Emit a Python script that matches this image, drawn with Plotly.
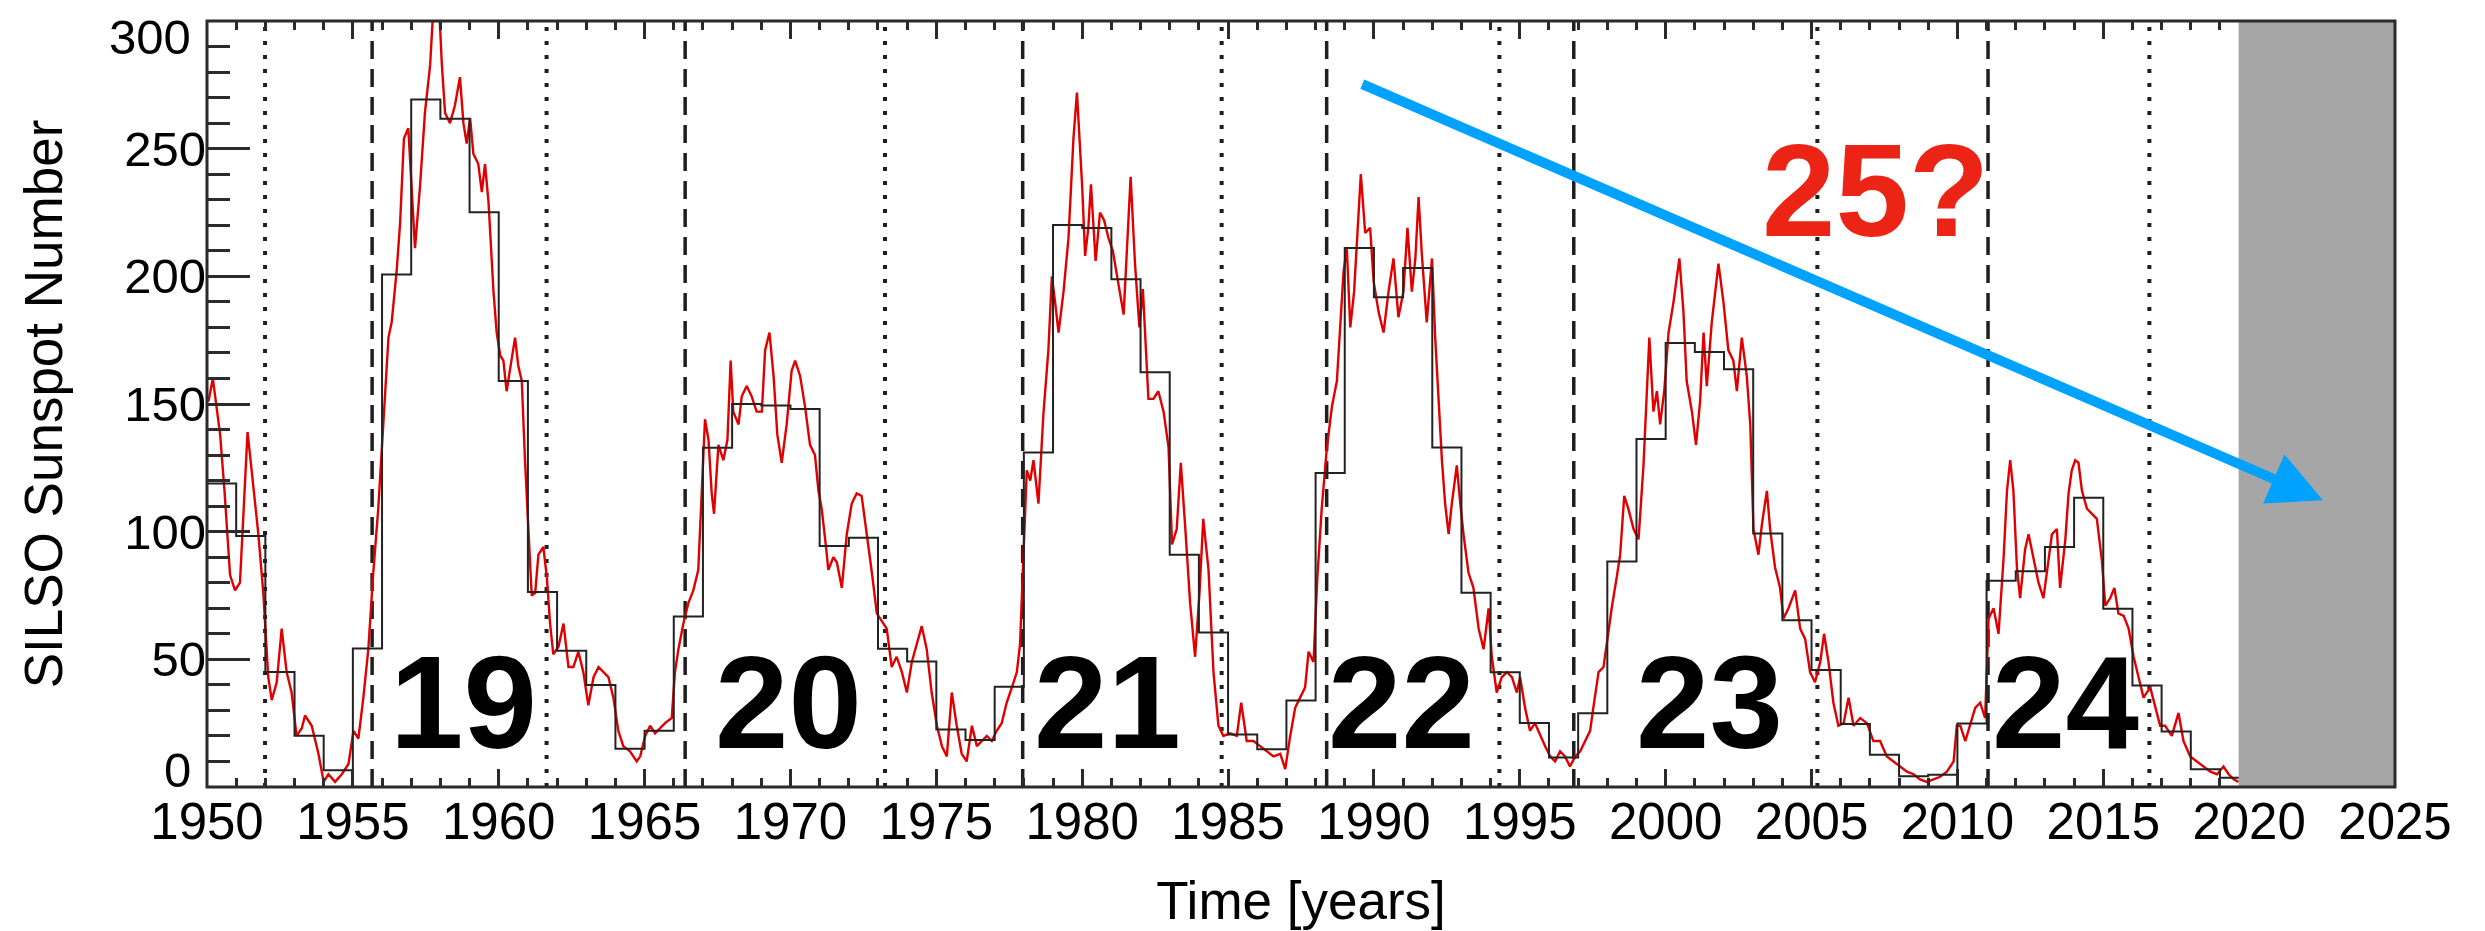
import plotly.graph_objects as go

# ---------------------------------------------------------------------------
# Data
# ---------------------------------------------------------------------------

# Yearly mean sunspot number (drawn as black steps, one step per calendar year)
annual_years = list(range(1950, 2020))
annual_ssn = [
    118.9, 98.3, 45.0, 20.1, 6.6, 54.2, 200.7, 269.3, 261.7, 225.1,
    159.0, 76.4, 53.4, 39.9, 15.0, 22.0, 66.8, 132.9, 150.0, 149.4,
    148.0, 94.4, 97.6, 54.1, 49.2, 22.5, 18.4, 39.3, 131.0, 220.1,
    218.9, 198.9, 162.4, 91.0, 60.5, 20.6, 14.8, 33.9, 123.0, 211.1,
    191.8, 203.3, 133.0, 76.1, 44.9, 25.1, 11.6, 28.9, 88.3, 136.3,
    173.9, 170.4, 163.6, 99.3, 65.3, 45.8, 24.7, 12.6, 4.2, 4.8,
    24.9, 80.8, 84.5, 94.0, 113.3, 69.8, 39.8, 21.7, 7.0, 3.6,
]

# Sub-annual sunspot number (red curve)
monthly_t = [
    1950.05, 1950.2, 1950.45, 1950.6, 1950.79, 1950.96, 1951.13, 1951.39, 1951.53, 1951.76,
    1951.93, 1952.1, 1952.22, 1952.39, 1952.56, 1952.73, 1952.9, 1953.07, 1953.25, 1953.36,
    1953.59, 1953.82, 1954.0, 1954.16, 1954.39, 1954.62, 1954.85, 1955.02, 1955.19, 1955.36,
    1955.53, 1955.7, 1955.87, 1956.05, 1956.22, 1956.33, 1956.5, 1956.62, 1956.75, 1956.9,
    1957.02, 1957.13, 1957.3, 1957.47, 1957.65, 1957.82, 1957.93, 1958.05, 1958.16, 1958.33,
    1958.5, 1958.67, 1958.79, 1958.9, 1959.02, 1959.13, 1959.3, 1959.42, 1959.53, 1959.65,
    1959.82, 1959.93, 1960.05, 1960.16, 1960.27, 1960.45, 1960.56, 1960.67, 1960.79, 1960.9,
    1961.02, 1961.13, 1961.25, 1961.36, 1961.53, 1961.65, 1961.76, 1961.87, 1962.05, 1962.22,
    1962.39, 1962.56, 1962.73, 1962.9, 1963.07, 1963.25, 1963.42, 1963.59, 1963.76, 1963.93,
    1964.1, 1964.27, 1964.5, 1964.73, 1964.85, 1965.02, 1965.19, 1965.36, 1965.53, 1965.7,
    1965.93, 1966.04, 1966.16, 1966.33, 1966.5, 1966.67, 1966.84, 1966.96, 1967.07, 1967.19,
    1967.3, 1967.38, 1967.53, 1967.7, 1967.84, 1967.95, 1968.04, 1968.22, 1968.33, 1968.5,
    1968.67, 1968.84, 1969.02, 1969.13, 1969.28, 1969.42, 1969.55, 1969.7, 1969.87, 1970.04,
    1970.16, 1970.33, 1970.5, 1970.67, 1970.84, 1970.96, 1971.07, 1971.19, 1971.3, 1971.47,
    1971.59, 1971.76, 1971.93, 1972.1, 1972.27, 1972.44, 1972.62, 1972.79, 1972.96, 1973.13,
    1973.3, 1973.47, 1973.64, 1973.82, 1973.99, 1974.16, 1974.33, 1974.5, 1974.67, 1974.84,
    1975.02, 1975.19, 1975.36, 1975.53, 1975.7, 1975.87, 1976.04, 1976.22, 1976.39, 1976.56,
    1976.73, 1976.9, 1977.07, 1977.24, 1977.41, 1977.59, 1977.76, 1977.87, 1977.99, 1978.1,
    1978.22, 1978.33, 1978.5, 1978.67, 1978.84, 1978.96, 1979.07, 1979.19, 1979.36, 1979.53,
    1979.7, 1979.82, 1980.0, 1980.1, 1980.21, 1980.3, 1980.46, 1980.61, 1980.75, 1980.9,
    1981.05, 1981.19, 1981.42, 1981.66, 1981.81, 1981.96, 1982.08, 1982.27, 1982.44, 1982.61,
    1982.79, 1982.96, 1983.08, 1983.24, 1983.38, 1983.53, 1983.7, 1983.87, 1984.02, 1984.15,
    1984.33, 1984.5, 1984.67, 1984.84, 1985.07, 1985.3, 1985.45, 1985.64, 1985.87, 1986.1,
    1986.33, 1986.56, 1986.79, 1986.96, 1987.13, 1987.3, 1987.47, 1987.64, 1987.76, 1987.93,
    1988.06, 1988.21, 1988.38, 1988.56, 1988.73, 1988.84, 1988.96, 1989.07, 1989.19, 1989.32,
    1989.47, 1989.55, 1989.7, 1989.87, 1989.99, 1990.16, 1990.33, 1990.5, 1990.67, 1990.84,
    1991.01, 1991.15, 1991.3, 1991.42, 1991.53, 1991.64, 1991.81, 1991.99, 1992.1, 1992.21,
    1992.33, 1992.44, 1992.56, 1992.67, 1992.84, 1992.96, 1993.07, 1993.24, 1993.41, 1993.59,
    1993.76, 1993.93, 1994.04, 1994.21, 1994.38, 1994.56, 1994.73, 1994.9, 1995.01, 1995.18,
    1995.35, 1995.52, 1995.7, 1995.87, 1996.04, 1996.21, 1996.38, 1996.55, 1996.72, 1996.9,
    1997.07, 1997.24, 1997.41, 1997.52, 1997.7, 1997.87, 1998.0, 1998.15, 1998.32, 1998.44,
    1998.58, 1998.72, 1998.9, 1999.07, 1999.24, 1999.35, 1999.44, 1999.58, 1999.7, 1999.81,
    1999.95, 2000.1, 2000.27, 2000.47, 2000.61, 2000.72, 2000.9, 2001.04, 2001.18, 2001.3,
    2001.41, 2001.58, 2001.81, 2001.98, 2002.15, 2002.32, 2002.44, 2002.61, 2002.78, 2002.9,
    2003.01, 2003.18, 2003.3, 2003.47, 2003.58, 2003.75, 2003.92, 2004.04, 2004.21, 2004.44,
    2004.61, 2004.78, 2004.95, 2005.12, 2005.3, 2005.43, 2005.58, 2005.75, 2005.92, 2006.1,
    2006.27, 2006.44, 2006.67, 2006.9, 2007.12, 2007.35, 2007.58, 2007.81, 2008.04, 2008.27,
    2008.5, 2008.72, 2008.95, 2009.18, 2009.41, 2009.64, 2009.87, 2009.98, 2010.1, 2010.27,
    2010.44, 2010.61, 2010.78, 2010.95, 2011.07, 2011.24, 2011.41, 2011.58, 2011.7, 2011.81,
    2011.92, 2012.04, 2012.15, 2012.32, 2012.44, 2012.61, 2012.78, 2012.95, 2013.09, 2013.24,
    2013.41, 2013.52, 2013.7, 2013.81, 2013.92, 2014.04, 2014.15, 2014.27, 2014.44, 2014.61,
    2014.78, 2014.95, 2015.07, 2015.24, 2015.38, 2015.52, 2015.7, 2015.87, 2016.04, 2016.21,
    2016.38, 2016.61, 2016.78, 2016.95, 2017.12, 2017.35, 2017.58, 2017.75, 2017.98, 2018.21,
    2018.44, 2018.67, 2018.9, 2019.12, 2019.3, 2019.47, 2019.64,
]
monthly_ssn = [
    151, 160, 138, 116, 83, 77, 80, 139, 124, 99,
    76, 43, 34, 41, 62, 45, 37, 20, 23, 28,
    24, 13, 2, 5, 2, 5, 9, 22, 19, 35,
    54, 84, 109, 142, 176, 182, 202, 221, 254, 258,
    231, 211, 235, 264, 283, 318, 312, 283, 264, 260,
    267, 278, 260, 252, 262, 248, 244, 233, 244, 229,
    194, 178, 169, 167, 155, 167, 176, 165, 159, 128,
    97, 75, 76, 91, 94, 82, 64, 52, 55, 64,
    47, 47, 53, 45, 32, 43, 47, 45, 43, 35,
    22, 16, 14, 10, 12, 20, 24, 21, 23, 25,
    27, 45, 54, 64, 72, 77, 85, 115, 144, 136,
    115, 107, 134, 128, 136, 167, 147, 142, 153, 157,
    153, 147, 147, 171, 178, 161, 138, 127, 142, 163,
    167, 161, 149, 134, 130, 116, 109, 97, 85, 90,
    88, 78, 99, 111, 115, 114, 99, 84, 68, 65,
    62, 47, 51, 45, 37, 49, 56, 63, 54, 37,
    24, 16, 12, 37, 24, 13, 10, 24, 16, 18,
    20, 18, 22, 25, 33, 39, 45, 56, 89, 124,
    120, 128, 111, 146, 171, 200, 190, 178, 194, 215,
    254, 272, 235, 208, 219, 236, 206, 225, 222, 215,
    210, 200, 185, 239, 205, 180, 195, 152, 152, 155,
    147, 133, 95, 101, 127, 102, 72, 51, 76, 105,
    85, 45, 24, 20, 21, 20, 33, 18, 18, 16,
    14, 12, 13, 7, 20, 31, 35, 39, 53, 49,
    82, 109, 132, 149, 159, 178, 202, 211, 180, 194,
    221, 240, 217, 219, 198, 186, 178, 194, 207, 184,
    194, 219, 194, 207, 231, 209, 182, 207, 176, 151,
    128, 111, 99, 111, 126, 111, 99, 84, 78, 62,
    54, 70, 51, 37, 43, 45, 43, 37, 43, 31,
    22, 25, 20, 16, 12, 10, 14, 12, 8, 12,
    14, 18, 22, 31, 45, 47, 58, 70, 82, 91,
    114, 109, 101, 97, 126, 155, 176, 147, 155, 142,
    155, 178, 190, 207, 186, 159, 147, 134, 151, 178,
    157, 182, 205, 190, 171, 167, 155, 176, 161, 142,
    101, 91, 103, 116, 101, 86, 78, 66, 70, 77,
    62, 58, 45, 41, 49, 60, 49, 33, 24, 25,
    35, 24, 27, 25, 18, 18, 12, 10, 8, 6,
    5, 3, 2, 3, 4, 6, 10, 24, 24, 18,
    25, 31, 33, 27, 66, 70, 60, 89, 116, 128,
    116, 86, 74, 93, 99, 89, 80, 74, 87, 99,
    101, 78, 97, 115, 124, 128, 127, 116, 109, 107,
    105, 89, 71, 74, 78, 68, 67, 62, 51, 43,
    35, 39, 31, 24, 24, 20, 29, 18, 12, 10,
    8, 6, 5, 8, 5, 3, 2,
]

# Cycle terminators (dashed) and intermediate markers (dotted), in years
terminators = [1955.66, 1966.39, 1977.96, 1988.38, 1996.85, 2011.05]
midpoints = [1951.99, 1961.64, 1973.24, 1984.78, 1994.30, 2005.20, 2016.58]

# Cycle numbers and where they are written
cycle_names = ["19", "20", "21", "22", "23", "24"]
cycle_name_x = [1958.78, 1969.93, 1980.87, 1990.94, 2001.5, 2013.7]
cycle_name_y = 33

# End of the observed record; everything after is shaded
record_end = 2019.64

# Trend arrow towards the next cycle (tail and head, data coordinates)
trend_tail = (1989.55, 275.5)
trend_head = (2022.53, 112.3)
next_cycle_label = "25?"
next_cycle_pos = (2007.2, 233.5)

x_range = [1950, 2025]
y_range = [0, 300]
y_ticks = [0, 50, 100, 150, 200, 250, 300]

# ---------------------------------------------------------------------------
# Figure
# ---------------------------------------------------------------------------
FONT = "Liberation Sans, Arial, Helvetica, sans-serif"
AXIS_COLOR = "#2b2b2b"

fig = go.Figure()

fig.add_trace(go.Scatter(
    x=monthly_t, y=monthly_ssn, mode="lines",
    line=dict(color="#e10000", width=2.4),
    hoverinfo="skip", showlegend=False,
))

fig.add_trace(go.Scatter(
    x=annual_years + [annual_years[-1] + 1],
    y=annual_ssn + [annual_ssn[-1]],
    mode="lines", line=dict(color="#222222", width=2, shape="hv"),
    hoverinfo="skip", showlegend=False,
))

shapes = []
for t in terminators:
    shapes.append(dict(type="line", xref="x", yref="paper", x0=t, x1=t, y0=0, y1=1,
                       line=dict(color="#1e1e1e", width=3.5, dash="18px,10px"),
                       layer="below"))
for t in midpoints:
    shapes.append(dict(type="line", xref="x", yref="paper", x0=t, x1=t, y0=0, y1=1,
                       line=dict(color="#1e1e1e", width=4, dash="4px,10px"),
                       layer="below"))

# shaded region beyond the end of the record
shapes.append(dict(type="rect", xref="x", yref="paper", x0=record_end, x1=x_range[1],
                   y0=0, y1=1, fillcolor="#a6a6a6", line=dict(width=0), layer="above"))
# plot frame on top of the shading
shapes.append(dict(type="rect", xref="paper", yref="paper", x0=0, x1=1, y0=0, y1=1,
                   fillcolor="rgba(0,0,0,0)", line=dict(color=AXIS_COLOR, width=3),
                   layer="above"))

annotations = []
for name, cx in zip(cycle_names, cycle_name_x):
    annotations.append(dict(x=cx, y=cycle_name_y, xref="x", yref="y",
                            text=f"<b>{name}</b>", showarrow=False,
                            xanchor="center", yanchor="middle",
                            font=dict(family=FONT, size=132, color="black")))

annotations.append(dict(x=next_cycle_pos[0], y=next_cycle_pos[1], xref="x", yref="y",
                        text=f"<b>{next_cycle_label}</b>", showarrow=False,
                        xanchor="center", yanchor="middle",
                        font=dict(family=FONT, size=132, color="#ec2415")))

annotations.append(dict(x=trend_head[0], y=trend_head[1], xref="x", yref="y",
                        ax=trend_tail[0], ay=trend_tail[1], axref="x", ayref="y",
                        text="", showarrow=True, arrowhead=2, arrowsize=1.07,
                        arrowwidth=10, arrowcolor="#00a2ff", standoff=0))

# end labels of the y axis sit slightly inside the frame
for val, shift in ((y_ticks[0], 17), (y_ticks[-1], -16)):
    annotations.append(dict(x=0, y=val, xref="paper", yref="y", text=str(val),
                            showarrow=False, xanchor="right", yanchor="middle",
                            xshift=-14, yshift=shift,
                            font=dict(family=FONT, size=49, color="black")))

fig.update_layout(
    width=2485, height=931, autosize=False,
    margin=dict(l=207, r=90, t=21, b=139, pad=0),
    paper_bgcolor="white", plot_bgcolor="white",
    font=dict(family=FONT, color="black"),
    shapes=shapes, annotations=annotations, showlegend=False,
)

fig.update_xaxes(
    range=x_range, tick0=1950, dtick=5,
    ticks="inside", ticklen=18, tickwidth=2.5, tickcolor=AXIS_COLOR,
    minor=dict(dtick=1, ticks="inside", ticklen=9, tickwidth=2.5, tickcolor=AXIS_COLOR),
    mirror="ticks", showline=False, showgrid=False, zeroline=False,
    tickfont=dict(family=FONT, size=51, color="black"),
    title=dict(text="Time [years]", font=dict(family=FONT, size=53, color="black"),
               standoff=32),
)

fig.update_yaxes(
    range=y_range, tickvals=y_ticks,
    ticktext=[""] + [str(v) for v in y_ticks[1:-1]] + [""],
    ticks="inside", ticklen=43, tickwidth=2.5, tickcolor=AXIS_COLOR,
    minor=dict(dtick=10, ticks="inside", ticklen=23, tickwidth=2.5, tickcolor=AXIS_COLOR),
    mirror="ticks", showline=False, showgrid=False, zeroline=False,
    tickfont=dict(family=FONT, size=49, color="black"),
    title=dict(text="SILSO Sunspot Number", font=dict(family=FONT, size=53, color="black"),
               standoff=44),
)

fig.write_html("out.html")
